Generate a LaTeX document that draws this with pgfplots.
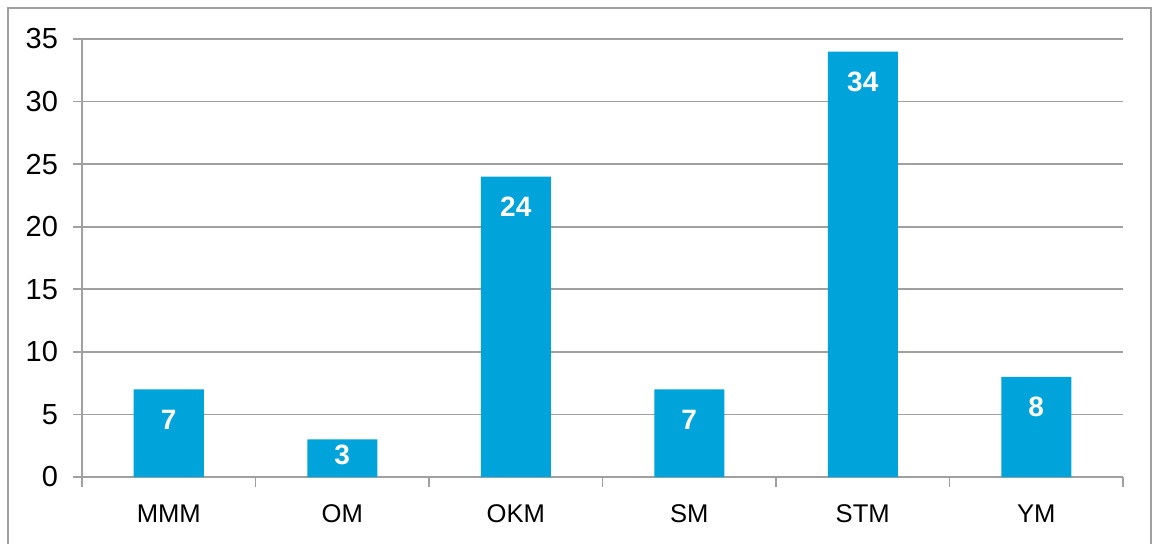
\documentclass[border=0pt]{standalone}
\usepackage{pgfplots}
\pgfplotsset{compat=1.18}
\usepackage{pgfplotstable}
\usepackage{fontspec}
\setmainfont{Liberation Sans}
\definecolor{barblue}{RGB}{0,163,218}
\definecolor{gridgray}{RGB}{160,160,160}
\pgfplotstableread{
x y s
0 7 -15
1 3 -7.5
2 24 -15
3 7 -15
4 34 -15
5 8 -15
}\datatable
\begin{document}
\begin{tikzpicture}
\useasboundingbox (-41pt,-33pt) rectangle (536pt,238.5pt);
\draw[gridgray, line width=1pt] (-37pt,-60pt) -- (-37pt,234.5pt) -- (534.5pt,234.5pt) -- (534.5pt,-60pt);
\begin{axis}[
  at={(0,0)}, anchor=south west,
  scale only axis,
  width=520.5pt, height=219pt,
  xmin=-0.5, xmax=5.5,
  ymin=0, ymax=35,
  ytick={0,5,...,35},
  xtick={0,...,5},
  xticklabels={MMM,OM,OKM,SM,STM,YM},
  minor xtick={-0.5,0.5,...,5.5},
  major x tick style={draw=none},
  tick align=outside,
  major tick length=4.5pt,
  minor tick length=5pt,
  every tick/.style={gridgray, line width=0.9pt},
  axis line style={gridgray, line width=0.9pt},
  axis x line*=bottom,
  axis y line*=left,
  ymajorgrids,
  grid style={gridgray, line width=0.9pt},
  yticklabel style={font=\fontsize{14.5}{16}\selectfont, xshift=-4pt},
  xticklabel style={font=\fontsize{12.8}{15}\selectfont, yshift=-6pt},
  /pgf/number format/assume math mode=true,
  ybar, bar width=35pt,
  bar shift=0pt,
  nodes near coords,
  visualization depends on={\thisrow{s} \as \lblshift},
  every node near coord/.append style={font=\bfseries\fontsize{14}{16}\selectfont, text=white, anchor=center, yshift=\lblshift pt},
]
\addplot[fill=barblue, draw=none] table[x=x, y=y] {\datatable};
\end{axis}
\end{tikzpicture}
\end{document}
